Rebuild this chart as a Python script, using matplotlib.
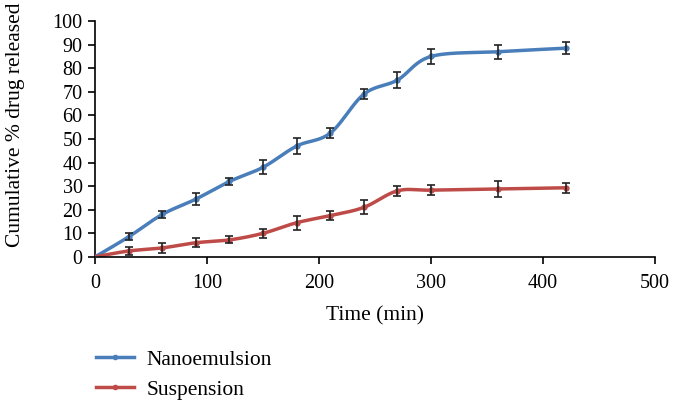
import numpy as np
import matplotlib
matplotlib.use("Agg")
import matplotlib.pyplot as plt
from matplotlib.lines import Line2D

time_min = [0, 30, 60, 90, 120, 150, 180, 210, 240, 270, 300, 360, 420]
nano = [0, 8.5, 18, 24.5, 32, 38, 47, 52.5, 69, 75, 85, 87, 88.5]
nano_err = [0, 1.5, 1.5, 2.5, 1.5, 3, 3.5, 2, 2, 3.5, 3, 3, 2.5]
susp = [0, 2.5, 3.8, 6, 7.2, 10, 14.5, 17.5, 21, 28, 28.3, 28.8, 29.3]
susp_err = [0, 1.8, 2, 2, 1.5, 2, 3, 2, 3, 2, 2, 3.5, 2]
labels = ["Nanoemulsion", "Suspension"]
colors = ["#4A7EBB", "#BE4B48"]

plt.rcParams['font.family'] = ['Liberation Serif', 'DejaVu Serif']


def smooth(x, y, n=30):
    x = np.asarray(x, float)
    y = np.asarray(y, float)
    P = np.column_stack([x, y])
    out = []
    for i in range(len(P) - 1):
        p0 = P[i - 1] if i > 0 else P[i]
        p1 = P[i]
        p2 = P[i + 1]
        p3 = P[i + 2] if i + 2 < len(P) else P[i + 1]
        c1 = p1 + (p2 - p0) / 6
        c2 = p2 - (p3 - p1) / 6
        t = np.linspace(0, 1, n)[:, None]
        seg = ((1 - t) ** 3) * p1 + 3 * ((1 - t) ** 2) * t * c1 + 3 * (1 - t) * t ** 2 * c2 + t ** 3 * p2
        out.append(seg if i == 0 else seg[1:])
    s = np.vstack(out)
    return s[:, 0], s[:, 1]


fig = plt.figure(figsize=(6.74, 4.13), dpi=100)
ax = fig.add_axes([0.141, 0.378, 0.831, 0.571])

for ys, es, c in [(nano, nano_err, colors[0]), (susp, susp_err, colors[1])]:
    sx, sy = smooth(time_min, ys)
    ax.plot(sx, sy, color=c, lw=2.5, zorder=2)
    ax.plot(time_min, ys, 'o', color=c, ms=3.5, zorder=3)
    ax.errorbar(time_min, ys, yerr=es, fmt='none', ecolor='#222222', elinewidth=1.2,
                capsize=3, capthick=1.2, zorder=4)

ax.set_xlim(0, 500)
ax.set_ylim(0, 100)
ax.set_xticks(range(0, 501, 100))
ax.set_yticks(range(0, 101, 10))
for s in ['top', 'right']:
    ax.spines[s].set_visible(False)
for s in ['left', 'bottom']:
    ax.spines[s].set_linewidth(1.2)
ax.tick_params(axis='both', direction='out', length=5, width=1.2, labelsize=14.5)
ax.tick_params(axis='x', pad=7)
ax.tick_params(axis='y', pad=4)
ax.set_xlabel("Time (min)", fontsize=15.5, labelpad=10)
ax.set_ylabel("Cumulative % drug released", fontsize=15.5)
ax.yaxis.set_label_coords(-0.125, 0.56)

handles = [Line2D([0], [0], color=c, lw=2.5, marker='o', ms=3) for c in colors]
fig.legend(handles, labels, loc='upper left', bbox_to_anchor=(0.113, 0.20),
           frameon=False, fontsize=15.5, handlelength=1.8, labelspacing=0.45,
           handletextpad=0.55)

fig.savefig("out.png", dpi=100)
